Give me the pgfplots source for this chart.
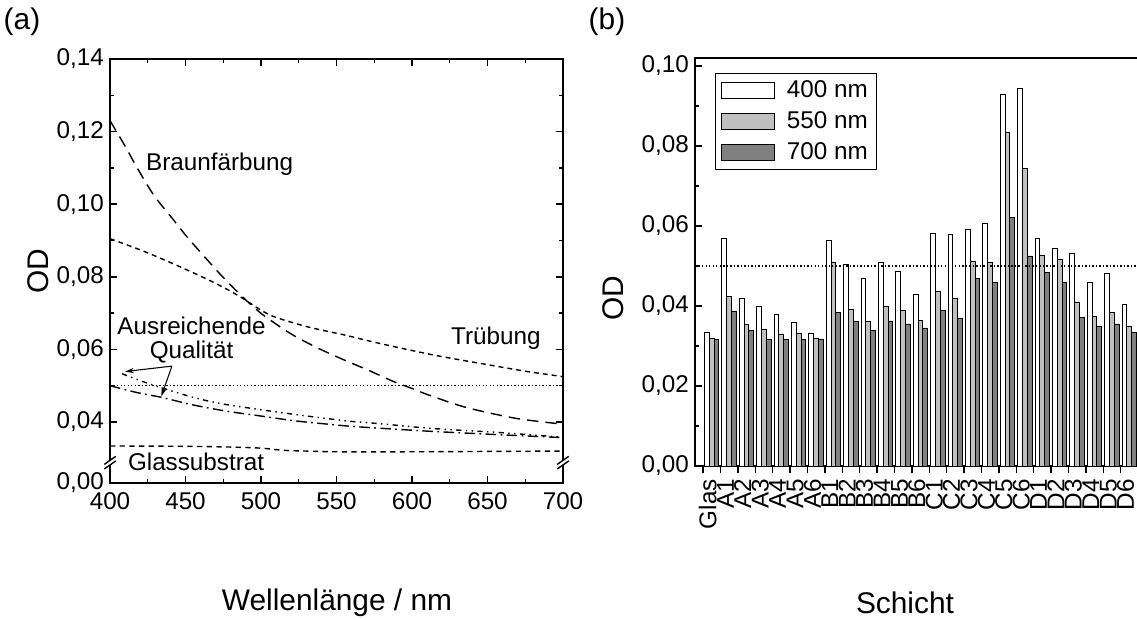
\documentclass[border=0pt]{standalone}
\usepackage{fontspec}
\setmainfont{Liberation Sans}
\usepackage{pgfplots}
\pgfplotsset{compat=1.18}
\usepackage{pgfplotstable}
\usetikzlibrary{arrows.meta}
\definecolor{lgray}{HTML}{C0C0C0}
\definecolor{dgray}{HTML}{808080}
\newcommand{\tf}{\fontsize{13.8}{16}\selectfont}
\newcommand{\lf}{\fontsize{17}{20}\selectfont}

\pgfplotstableread{
i w g d
0  0.0333 0.0318 0.0316
1  0.0568 0.0423 0.0387
2  0.0420 0.0354 0.0339
3  0.0400 0.0341 0.0317
4  0.0380 0.0330 0.0317
5  0.0360 0.0332 0.0316
6  0.0332 0.0318 0.0316
7  0.0564 0.0510 0.0383
8  0.0503 0.0392 0.0362
9  0.0470 0.0361 0.0338
10 0.0509 0.0398 0.0362
11 0.0487 0.0388 0.0355
12 0.0430 0.0363 0.0345
13 0.0581 0.0437 0.0389
14 0.0579 0.0420 0.0370
15 0.0591 0.0512 0.0469
16 0.0606 0.0508 0.0458
17 0.0928 0.0835 0.0621
18 0.0945 0.0743 0.0525
19 0.0568 0.0526 0.0483
20 0.0545 0.0516 0.0458
21 0.0531 0.0408 0.0371
22 0.0458 0.0373 0.0349
23 0.0481 0.0383 0.0355
24 0.0403 0.0348 0.0333
}\datab

\begin{document}
\begin{tikzpicture}
\useasboundingbox (0,0) rectangle (22.74,12.38);
% ---------------- panel (a)
\begin{axis}[
  at={(2.2cm,2.72cm)}, anchor=south west,
  scale only axis, width=9.06cm, height=8.48cm,
  xmin=400, xmax=700, ymin=0.0232, ymax=0.14,
  xtick={400,450,500,550,600,650,700},
  xticklabels={400,450,500,550,600,650,700},
  minor xtick={425,475,525,575,625,675},
  ytick={0.0232,0.04,0.06,0.08,0.10,0.12,0.14},
  yticklabels={{0,00},{0,04},{0,06},{0,08},{0,10},{0,12},{0,14}},
  minor ytick={0.05,0.07,0.09,0.11,0.13},
  tick align=inside,
  major tick length=4pt, minor tick length=2.5pt,
  tick style={black, line width=0.8pt},
  axis line style={line width=1.1pt},
  tick label style={font=\tf},
  xticklabel style={yshift=-2pt},
  clip=false,
]
\addplot[black, line width=0.6pt, dash pattern=on 0.8pt off 1.2pt] coordinates {(400,0.05) (700,0.05)};
% Braunfaerbung
\addplot[black, line width=0.8pt, smooth, dash pattern=on 6.5pt off 4pt] coordinates {
(400,0.1230) (410,0.1160) (418,0.1100) (429,0.1025) (442,0.0957) (451,0.0910) (462,0.0858) (473,0.0807) (484,0.0760) (495,0.0717) (504,0.0687) (521,0.0640) (539,0.0601) (555,0.0571) (572,0.0541) (588,0.0511) (599,0.0494) (612,0.0473) (636,0.0440) (669,0.0410) (700,0.0394)};
% Truebung
\addplot[black, line width=0.8pt, smooth, dash pattern=on 2.8pt off 2.3pt] coordinates {
(400,0.0905) (422,0.0871) (444,0.0832) (466,0.0790) (480,0.0760) (490,0.0735) (500,0.0708) (510,0.0688) (532,0.0661) (555,0.0640) (577,0.0618) (600,0.0597) (620,0.0580) (650,0.0558) (675,0.0540) (700,0.0525)};
% Ausreichende Qualitaet (upper)
\addplot[black, line width=0.8pt, smooth, dash pattern=on 3pt off 2.5pt on 0.8pt off 2.5pt on 0.8pt off 2.5pt] coordinates {
(408,0.0533) (422,0.0511) (437.5,0.0490) (455,0.0468) (473,0.0451) (493,0.0438) (515,0.0425) (537,0.0413) (559,0.0402) (577,0.0396) (614,0.0382) (658,0.0371) (700,0.0358)};
% Ausreichende Qualitaet (lower)
\addplot[black, line width=0.8pt, smooth, dash pattern=on 6pt off 2.5pt on 1pt off 2.5pt] coordinates {
(400,0.0500) (418,0.0481) (434,0.0468) (455,0.0447) (477,0.0430) (499,0.0417) (521,0.0404) (537,0.0397) (560,0.0388) (590,0.0380) (614,0.0374) (658,0.0365) (700,0.0357)};
% Glassubstrat
\addplot[black, line width=0.8pt, smooth, dash pattern=on 3pt off 2.5pt] coordinates {
(400,0.0334) (450,0.0333) (480,0.0331) (500,0.0328) (515,0.0322) (530,0.0320) (550,0.0318) (600,0.0318) (650,0.0319) (700,0.0320)};
% annotations
\node[font=\tf] at (axis cs:472.6,0.1111) {Braunfärbung};
\node[font=\tf] at (axis cs:454,0.0665) {Ausreichende};
\node[font=\tf] at (axis cs:454,0.0593) {Qualität};
\node[font=\tf] at (axis cs:655.5,0.0630) {Trübung};
\node[font=\tf] at (axis cs:457,0.0290) {Glassubstrat};
\draw[line width=0.6pt, -{Stealth[length=5pt,width=3pt]}] (axis cs:441,0.0554) -- (axis cs:410,0.0539);
\draw[line width=0.6pt, -{Stealth[length=5pt,width=3pt]}] (axis cs:441,0.0554) -- (axis cs:434,0.0471);
% axis breaks
\fill[white] ([xshift=-3.3pt,yshift=-3.6pt]axis cs:400,0.0288) -- ([xshift=3.3pt,yshift=1pt]axis cs:400,0.0288) -- ([xshift=3.3pt,yshift=3.6pt]axis cs:400,0.0288) -- ([xshift=-3.3pt,yshift=-1pt]axis cs:400,0.0288) -- cycle;
\draw[line width=0.8pt] ([xshift=-3.3pt,yshift=-3.6pt]axis cs:400,0.0288) -- ([xshift=3.3pt,yshift=1pt]axis cs:400,0.0288);
\draw[line width=0.8pt] ([xshift=-3.3pt,yshift=-1pt]axis cs:400,0.0288) -- ([xshift=3.3pt,yshift=3.6pt]axis cs:400,0.0288);
\fill[white] ([xshift=-3.3pt,yshift=-3.6pt]axis cs:700,0.0288) -- ([xshift=3.3pt,yshift=1pt]axis cs:700,0.0288) -- ([xshift=3.3pt,yshift=3.6pt]axis cs:700,0.0288) -- ([xshift=-3.3pt,yshift=-1pt]axis cs:700,0.0288) -- cycle;
\draw[line width=0.8pt] ([xshift=-3.3pt,yshift=-3.6pt]axis cs:700,0.0288) -- ([xshift=3.3pt,yshift=1pt]axis cs:700,0.0288);
\draw[line width=0.8pt] ([xshift=-3.3pt,yshift=-1pt]axis cs:700,0.0288) -- ([xshift=3.3pt,yshift=3.6pt]axis cs:700,0.0288);
\end{axis}
% ---------------- panel (b)
\begin{axis}[
  at={(13.9cm,3.06cm)}, anchor=south west,
  scale only axis, width=8.86cm, height=8.16cm,
  xmin=-0.96, xmax=24.5, ymin=0, ymax=0.102,
  xtick={-0.5,0.5,1.5,2.5,3.5,4.5,5.5,6.5,7.5,8.5,9.5,10.5,11.5,12.5,13.5,14.5,15.5,16.5,17.5,18.5,19.5,20.5,21.5,22.5,23.5,24.5},
  xticklabels={},
  xticklabel shift=4pt,
  extra x ticks={0,1,2,3,4,5,6,7,8,9,10,11,12,13,14,15,16,17,18,19,20,21,22,23,24},
  extra x tick labels={Glas,A1,A2,A3,A4,A5,A6,B1,B2,B3,B4,B5,B6,C1,C2,C3,C4,C5,C6,D1,D2,D3,D4,D5,D6},
  extra x tick style={major tick length=0pt, tick label style={rotate=90, anchor=mid east, font=\tf}},
  ytick={0,0.02,0.04,0.06,0.08,0.10},
  yticklabels={{0,00},{0,02},{0,04},{0,06},{0,08},{0,10}},
  minor ytick={0.01,0.03,0.05,0.07,0.09},
  tick pos=left,
  tick align=inside,
  major tick length=4pt, minor tick length=2.5pt,
  tick style={black, line width=0.8pt},
  xtick style={yshift=-4pt},
  axis line style={line width=1.1pt},
  tick label style={font=\tf},
  legend image code/.code={\draw[#1] (0cm,-0.16cm) rectangle (1.06cm,0.16cm);},
  legend style={at={(axis description cs:0.045,0.963)}, anchor=north west, draw=black, line width=0.6pt, font=\tf, row sep=2.5pt, inner xsep=3pt, inner ysep=2pt, nodes={inner sep=2pt}, /tikz/every odd column/.append style={column sep=5pt}},
  legend cell align=left,
]
\addplot[ybar, bar width=0.275, bar shift=-0.275, fill=white, draw=black, line width=0.5pt] table[x=i,y=w] {\datab};
\addplot[ybar, bar width=0.275, bar shift=0, fill=lgray, draw=black, line width=0.5pt] table[x=i,y=g] {\datab};
\addplot[ybar, bar width=0.275, bar shift=0.275, fill=dgray, draw=black, line width=0.5pt] table[x=i,y=d] {\datab};
\addplot[forget plot, black, line width=0.6pt, dash pattern=on 0.8pt off 1.2pt] coordinates {(-0.96,0.05) (24.5,0.05)};
\legend{400 nm, 550 nm, 700 nm}
\end{axis}
% ---------------- labels
\node[font=\lf] at (0.44,11.94) {(a)};
\node[font=\lf] at (12.14,11.94) {(b)};
\node[font=\lf, rotate=90] at (0.76,6.96) {OD};
\node[font=\lf, rotate=90] at (12.26,6.42) {OD};
\node[font=\lf] at (6.74,0.32) {Wellenlänge / nm};
\node[font=\lf] at (18.1,0.32) {Schicht};
\end{tikzpicture}
\end{document}
